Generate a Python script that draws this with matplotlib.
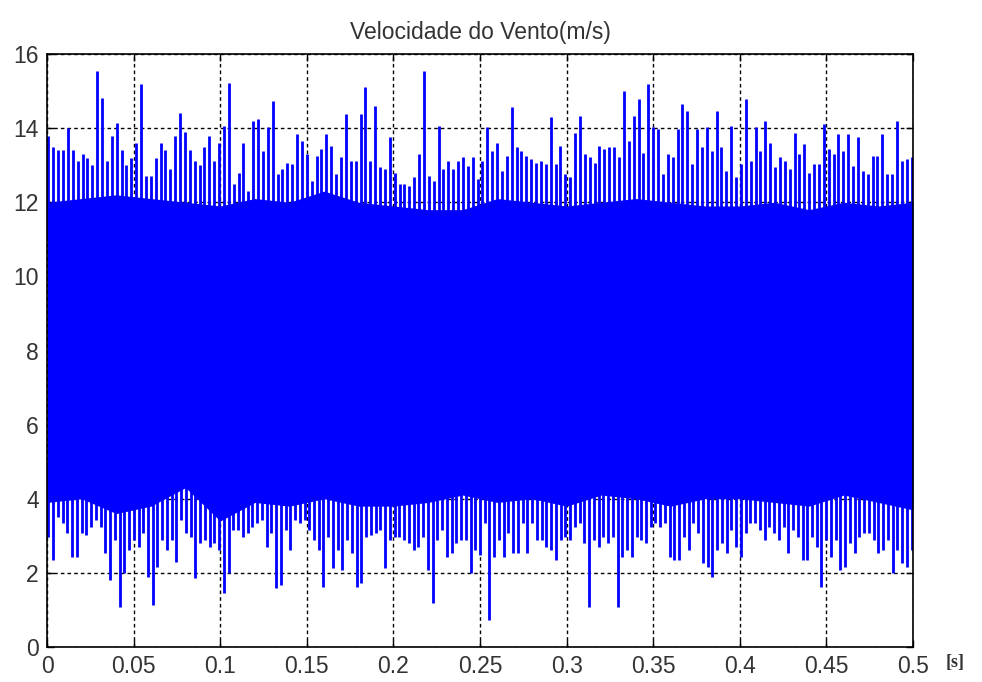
import numpy as np
import matplotlib.pyplot as plt

# peaks of the upward spikes, read left to right (m/s)
upper_peaks = [
    13.8, 13.5, 13.4, 13.4, 14.0, 13.4, 13.1, 13.3, 13.2, 13.0, 15.55, 14.8, 13.1, 13.8, 14.15,
    13.4, 13.0, 13.2, 13.6, 15.2, 12.7, 12.7, 13.2, 13.6, 13.4, 12.9, 13.8, 14.4, 13.9, 13.4,
    13.1, 13.0, 13.5, 13.8, 13.1, 13.6, 14.05, 15.23, 12.5, 12.8, 13.6, 12.3, 14.2,
    14.24, 13.39, 14.02, 14.74, 12.76, 12.89, 13.07, 13.03, 13.84, 13.66, 13.3, 12.58, 13.25,
    13.43, 13.84, 13.52, 12.76, 13.21, 14.38, 13.12, 13.12, 14.38, 15.1, 13.12, 14.6, 12.94,
    12.89, 13.75, 12.8, 12.49, 12.49, 12.44, 12.67, 13.3, 15.55, 12.71, 12.58, 14.06, 12.89,
    13.12, 12.89, 13.12, 13.21, 12.98, 13.21, 12.62,
    13.12, 14.02, 13.39, 13.61, 12.85, 13.25, 14.56, 13.48, 13.39, 13.25, 13.16, 13.07, 13.12,
    13.03, 14.29, 13.03, 13.52, 12.76, 12.67, 13.88, 14.33, 13.3, 13.21, 13.07, 13.52, 13.43,
    13.48, 13.48, 13.21, 15.0, 13.66, 14.33, 14.78, 13.34, 15.19, 14.02, 13.97, 12.76, 13.3,
    13.21, 13.97, 14.65, 14.47, 13.03, 13.97,
    13.48, 14.02, 13.39, 14.47, 13.48, 12.85, 14.06, 12.67, 13.03, 14.78, 13.12, 14.02, 13.39,
    14.2, 13.61, 12.94, 13.21, 13.12, 12.89, 13.88, 13.3, 13.57, 12.8, 13.03, 13.03, 14.11,
    13.43, 13.3, 13.84, 13.39, 13.84, 12.98, 13.75, 12.85, 12.76, 13.25, 13.25, 13.84, 12.76,
    12.76, 14.2, 13.12, 13.16, 13.21,
]

# troughs of the downward spikes, read left to right (m/s)
lower_troughs = [
    2.98, 2.35, 3.52, 3.34, 3.07, 2.44, 2.44, 3.07, 3.02, 3.25, 3.43, 3.25, 2.53, 1.81, 2.89,
    1.09, 1.99, 2.62, 2.89, 2.71, 3.07, 1.9, 1.13, 2.17, 2.89, 2.62, 2.89, 2.3, 3.43, 3.07,
    2.98, 1.85, 2.8, 2.89, 2.71, 2.8, 2.62, 1.45, 1.99, 3.16, 3.16, 2.98, 3.07, 3.25, 3.34,
    3.43, 2.71, 3.07, 1.58, 1.67, 3.16, 2.62, 3.43, 3.34, 3.43, 3.16, 2.89, 2.62, 1.63, 2.98,
    2.12, 2.62, 2.08, 2.89, 2.53, 1.63, 1.72, 2.98, 3.02, 3.07, 3.16, 2.12, 2.89, 2.98, 2.98,
    2.89, 2.8, 2.62, 2.71, 2.98, 2.08, 1.18, 2.89, 3.16, 2.44, 2.53, 2.8, 2.89, 2.89, 1.99, 2.62,
    2.48, 3.34, 0.73, 2.44, 2.89, 2.44, 3.07, 2.53, 2.53, 3.34, 2.53, 3.34, 2.89, 2.89, 2.71,
    2.62, 2.35, 2.89, 2.98, 2.89, 3.25, 3.34, 2.8, 1.09, 2.89, 2.71, 2.98, 2.8, 2.98, 1.09,
    2.44, 2.62, 2.44, 2.98, 2.89, 2.8, 3.25, 3.34, 3.25, 3.34, 2.44, 2.35, 2.35, 2.98, 2.62,
    3.34, 3.07, 2.26, 2.17, 1.9, 2.62, 2.8, 2.53, 3.16, 2.71, 2.44, 3.07, 3.34, 3.34, 3.16,
    2.89, 3.25, 3.07, 2.89, 3.25, 2.53, 3.16, 2.98, 2.35, 2.35, 2.98, 2.71, 1.63, 2.89, 2.44,
    2.89, 2.08, 2.17, 2.8, 2.53, 2.98, 3.07, 3.07, 2.89, 2.53, 2.62, 2.89, 1.99, 2.62, 2.26,
    2.17, 2.62,
]

# edges of the solid band, every 0.02 s
edge_times = [0.00, 0.02, 0.04, 0.06, 0.08, 0.10, 0.12, 0.14, 0.16, 0.18, 0.20, 0.22, 0.24,
              0.26, 0.28, 0.30, 0.32, 0.34, 0.36, 0.38, 0.40, 0.42, 0.44, 0.46, 0.48, 0.50]
band_top = [12.0, 12.1, 12.2, 12.1, 12.0, 11.9, 12.1, 12.0, 12.3, 12.0, 11.9, 11.8, 11.8,
            12.1, 12.0, 11.9, 12.0, 12.1, 12.0, 11.9, 11.9, 12.0, 11.8, 12.0, 11.9, 12.0]
band_bottom = [3.9, 4.0, 3.6, 3.8, 4.3, 3.4, 3.9, 3.8, 4.0, 3.8, 3.8, 3.9, 4.1,
               3.9, 4.0, 3.8, 4.1, 4.0, 3.8, 4.0, 4.0, 3.9, 3.8, 4.1, 3.9, 3.7]

xticks = [0, 0.05, 0.1, 0.15, 0.2, 0.25, 0.3, 0.35, 0.4, 0.45, 0.5]
xticklabels = ['0', '0.05', '0.1', '0.15', '0.2', '0.25', '0.3', '0.35', '0.4', '0.45', '0.5']
yticks = [0, 2, 4, 6, 8, 10, 12, 14, 16]

txt = '#333333'
plt.rcParams['font.family'] = ['Liberation Sans', 'DejaVu Sans']

fig = plt.figure(figsize=(9.82, 6.82), dpi=100)
ax = fig.add_axes([47 / 982, 1 - 647 / 682, 866 / 982, 593 / 682])

# solid core of the signal
ax.fill_between(edge_times, band_bottom, band_top, color='b', lw=0)

# spikes
t_up = np.linspace(0.0008, 0.4992, len(upper_peaks))
t_lo = np.linspace(0.0008, 0.4992, len(lower_troughs))
ax.vlines(t_up, 11.0, upper_peaks, color='b', lw=2.0)
ax.vlines(t_lo, 5.0, lower_troughs, color='b', lw=2.0)

ax.set_xlim(0, 0.5)
ax.set_ylim(0, 16)
ax.set_xticks(xticks)
ax.set_xticklabels(xticklabels)
ax.set_yticks(yticks)
ax.set_axisbelow(True)
ax.grid(True, color='black', linestyle=(0, (2.6, 2.2)), lw=1.0)
ax.tick_params(direction='in', length=5, width=1, top=True, right=True,
               labelsize=16.5, labelcolor=txt, pad=6)
for s in ax.spines.values():
    s.set_linewidth(1.2)

ax.set_title('Velocidade do Vento(m/s)', fontsize=16.5, color=txt, pad=11)
fig.text(955 / 982, 1 - 663 / 682, '[s]', family='Liberation Serif', weight='bold',
         fontsize=13, color=txt, ha='center', va='center')

fig.savefig('out.png', dpi=100)
